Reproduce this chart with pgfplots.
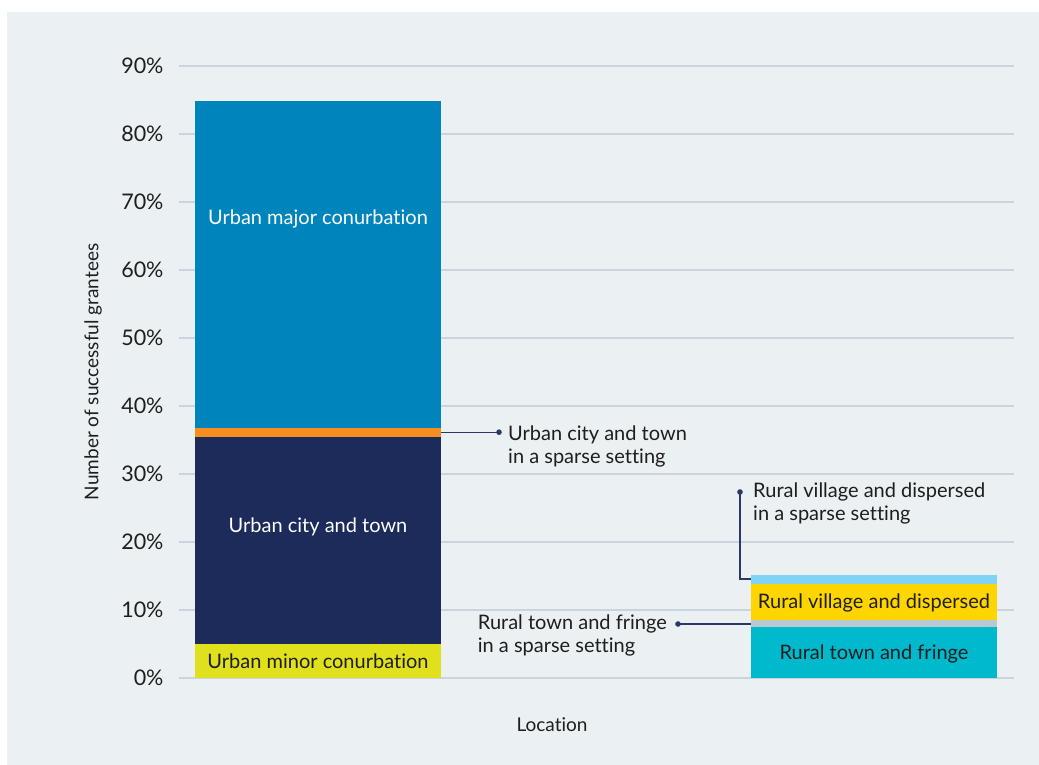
\documentclass[border=0pt]{standalone}
\usepackage{fontspec}
\setmainfont{Lato}[Ligatures=NoCommon]
\usepackage{pgfplots}
\pgfplotsset{compat=1.18}
\definecolor{bg}{HTML}{EBF0F3}
\definecolor{gridc}{HTML}{C9D4DC}
\definecolor{cmajor}{HTML}{0084BC}
\definecolor{corange}{HTML}{F68F1F}
\definecolor{cnavy}{HTML}{1D2B5B}
\definecolor{cminor}{HTML}{E1E01C}
\definecolor{cfringe}{HTML}{00B9CD}
\definecolor{cgrey}{HTML}{B9C8D3}
\definecolor{cgold}{HTML}{FFD500}
\definecolor{clight}{HTML}{80D2F6}
\definecolor{ctext}{HTML}{1E1E1E}
\definecolor{cline}{HTML}{2B3766}
\begin{document}
\begin{tikzpicture}[x=1pt,y=1pt]
\fill[white] (-179,-87) rectangle (860,678);
\fill[bg] (-172,-87) rectangle (860,666);
\begin{axis}[
  at={(0,0)}, anchor=south west,
  scale only axis, width=835pt, height=612pt,
  xmin=0, xmax=835, ymin=0, ymax=90,
  axis line style={draw=none},
  major tick length=0pt,
  xtick=\empty,
  ytick={0,10,20,30,40,50,60,70,80,90},
  yticklabels={0\%,10\%,20\%,30\%,40\%,50\%,60\%,70\%,80\%,90\%},
  yticklabel style={font=\fontsize{21.5}{24}\selectfont, text=ctext, anchor=east, xshift=-12pt},
  ymajorgrids, grid style={color=gridc, line width=1.2pt},
  ylabel={Number of successful grantees},
  ylabel style={at={(axis description cs:-0.103,0.5)}, anchor=center, font=\fontsize{19}{22}\selectfont, text=ctext},
  xlabel={Location},
  xlabel style={at={(axis description cs:0.4467,-0.0755)}, anchor=center, font=\fontsize{19}{22}\selectfont, text=ctext},
  ybar stacked, bar width=246pt,
  clip=false,
]
\addplot[fill=cminor, draw=none] coordinates {(139,5.0) (695,0)};
\addplot[fill=cnavy, draw=none] coordinates {(139,30.5) (695,0)};
\addplot[fill=corange, draw=none] coordinates {(139,1.3) (695,0)};
\addplot[fill=cmajor, draw=none] coordinates {(139,48.0) (695,0)};
\addplot[fill=cfringe, draw=none] coordinates {(139,0) (695,7.5)};
\addplot[fill=cgrey, draw=none] coordinates {(139,0) (695,1.1)};
\addplot[fill=cgold, draw=none] coordinates {(139,0) (695,5.2)};
\addplot[fill=clight, draw=none] coordinates {(139,0) (695,1.3)};

\coordinate (l1) at (axis cs:139,67.5);
\coordinate (l2) at (axis cs:139,22.3);
\coordinate (l3) at (axis cs:139,2.4);
\coordinate (l4) at (axis cs:695,11.0);
\coordinate (l5) at (axis cs:695,3.6);
\coordinate (a1) at (axis cs:262,36.15);
\coordinate (d1) at (axis cs:320,36.15);
\coordinate (t1) at (axis cs:329,34.0);
\coordinate (a2) at (axis cs:572,7.94);
\coordinate (d2) at (axis cs:499,7.94);
\coordinate (t2) at (axis cs:488,6.3);
\coordinate (d3) at (axis cs:561,27.35);
\coordinate (c3) at (axis cs:561,14.56);
\coordinate (a3) at (axis cs:572,14.56);
\coordinate (t3) at (axis cs:574,25.65);
\end{axis}
\node[text=white, font=\fontsize{20}{24}\selectfont] at (l1) {Urban major conurbation};
\node[text=white, font=\fontsize{20}{24}\selectfont] at (l2) {Urban city and town};
\node[text=ctext, font=\fontsize{20}{24}\selectfont] at (l3) {Urban minor conurbation};
\node[text=ctext, font=\fontsize{20}{24}\selectfont] at (l4) {Rural village and dispersed};
\node[text=ctext, font=\fontsize{20}{24}\selectfont] at (l5) {Rural town and fringe};
% callout 1
\draw[cline, line width=1.3pt] (a1) -- (d1);
\fill[cline] (d1) circle (2.8pt);
\node[anchor=west, align=left, text=ctext, font=\fontsize{20}{23}\selectfont, inner sep=0pt] at (t1) {Urban city and town\\in a sparse setting};
% callout 2
\draw[cline, line width=1.3pt] (d2) -- (a2);
\fill[cline] (d2) circle (2.8pt);
\node[anchor=east, align=left, text=ctext, font=\fontsize{20}{23}\selectfont, inner sep=0pt] at (t2) {Rural town and fringe\\in a sparse setting};
% callout 3
\draw[cline, line width=1.3pt] (d3) -- (c3) -- (a3);
\fill[cline] (d3) circle (2.8pt);
\node[anchor=west, align=left, text=ctext, font=\fontsize{20}{23}\selectfont, inner sep=0pt] at (t3) {Rural village and dispersed\\in a sparse setting};
\end{tikzpicture}
\end{document}
